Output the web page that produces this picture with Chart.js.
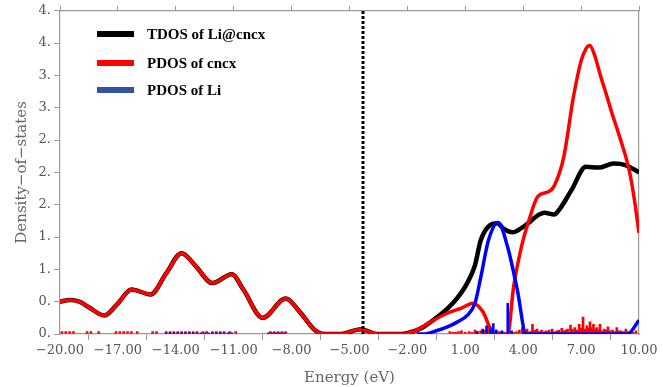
<!DOCTYPE html>
<html>
<head>
<meta charset="UTF-8">
<title>DOS of Li@cncx</title>
<script src="https://cdn.jsdelivr.net/npm/chart.js"></script>
<style>
    html, body { margin: 0; padding: 0; background: #fff; }
    #box { width: 663px; height: 387px; }
</style>
</head>
<body>
<div id="box"><canvas id="dosChart" width="663" height="387"></canvas></div>
<script>
// PDOS of cncx (smoothed curve)
const cncxE   = [-20, -19.5, -19, -18.5, -17.7, -17, -16.3, -15.3, -14.5, -13.7, -13, -12.1, -11.1, -10.5, -9.5, -8.3, -7.6, -6.8, -6.3, -5.5, -4.4, -3.6, -2.3, -1.6, -0.8, 0.1, 0.8, 1.4, 1.9, 2.5, 3.2, 3.5, 3.9, 4.25, 4.75, 5.3, 5.6, 6.1, 6.6, 7.0, 7.25, 7.45, 7.7, 8.0, 8.3, 8.55, 9.05, 9.5, 9.75, 10];
const cncxDos = [0.40, 0.42, 0.40, 0.33, 0.23, 0.38, 0.55, 0.49, 0.75, 1.00, 0.85, 0.63, 0.74, 0.55, 0.20, 0.44, 0.28, 0.05, 0.0, 0.0, 0.06, 0.0, 0.0, 0.04, 0.15, 0.26, 0.32, 0.38, 0.28, 0.0, 0.0, 0.58, 1.07, 1.37, 1.70, 1.76, 1.83, 2.19, 2.93, 3.38, 3.53, 3.57, 3.45, 3.20, 2.97, 2.77, 2.40, 2.02, 1.68, 1.25];

// TDOS of Li@cncx
const tdosE   = [-20, -19.5, -19, -18.5, -17.7, -17, -16.3, -15.3, -14.5, -13.7, -13, -12.1, -11.1, -10.5, -9.5, -8.3, -7.6, -6.8, -6.3, -5.5, -4.4, -3.6, -2.3, -1.6, -1.15, -0.5, 0.1, 0.6, 1.1, 1.5, 1.8, 2.3, 2.65, 3.0, 3.45, 3.9, 4.25, 4.7, 5.1, 5.6, 5.9, 6.5, 7.25, 7.9, 8.7, 9.3, 10];
const tdosDos = [0.40, 0.42, 0.40, 0.33, 0.23, 0.38, 0.55, 0.49, 0.75, 1.00, 0.85, 0.63, 0.74, 0.55, 0.20, 0.44, 0.28, 0.05, 0.0, 0.0, 0.06, 0.0, 0.0, 0.04, 0.09, 0.2, 0.32, 0.45, 0.63, 0.85, 1.16, 1.35, 1.37, 1.30, 1.26, 1.31, 1.37, 1.46, 1.50, 1.48, 1.55, 1.78, 2.07, 2.06, 2.11, 2.09, 2.0];

// PDOS of Li
const liE   = [-1.5, -1.15, -0.5, 0.1, 0.6, 1.1, 1.5, 1.8, 2.2, 2.7, 3.2, 3.7, 4.15, 9.4, 10];
const liDos = [0.0, 0.0, 0.04, 0.09, 0.15, 0.23, 0.38, 0.70, 1.16, 1.38, 1.07, 0.54, 0.0, 0.0, 0.17];

// discrete levels (sticks) along the baseline
const cncxStickE = [-19.9, -19.7, -19.5, -19.3, -18.6, -18.4, -18.0, -17.1, -16.9, -16.7, -16.5, -16.3, -16.0, -15.2, -15.0, -14.5, -14.3, -14.1, -13.9, -13.7, -13.5, -13.3, -13.1, -12.9, -12.6, -12.4, -12.1, -11.9, -11.7, -11.5, -11.2, -10.9, -9.1, -8.9, -8.7, -8.5, -8.3,
                    0.2, 0.35, 0.5, 0.65, 0.8, 1.0, 1.2, 1.35, 1.5, 1.65, 1.8, 2.0, 2.2, 2.4, 2.6, 2.75, 2.9, 3.05, 3.3, 3.5,
                    3.65, 3.8, 3.95, 4.1, 4.2, 4.35, 4.48, 4.6, 4.72, 4.85, 4.95, 5.1, 5.2, 5.35, 5.5, 5.62, 5.75, 5.85, 6.0, 6.1, 6.2, 6.3, 6.45, 6.55, 6.68, 6.8, 6.9, 7.0, 7.1, 7.2, 7.3, 7.38, 7.46, 7.55, 7.64, 7.72, 7.82, 7.9, 7.98, 8.08, 8.2, 8.3, 8.39, 8.5, 8.63, 8.75, 8.85, 8.95, 9.06, 9.2, 9.32, 9.45, 9.58, 9.7, 9.84];
const cncxStickH = [0.03, 0.03, 0.03, 0.03, 0.03, 0.03, 0.03, 0.03, 0.03, 0.03, 0.03, 0.03, 0.03, 0.03, 0.03, 0.03, 0.03, 0.03, 0.03, 0.03, 0.03, 0.03, 0.03, 0.03, 0.03, 0.03, 0.03, 0.03, 0.03, 0.03, 0.03, 0.03, 0.03, 0.03, 0.03, 0.03, 0.03,
                    0.03, 0.02, 0.02, 0.03, 0.04, 0.02, 0.03, 0.02, 0.05, 0.03, 0.04, 0.05, 0.06, 0.04, 0.05, 0.03, 0.03, 0.02, 0.03, 0.02,
                    0.03, 0.05, 0.08, 0.04, 0.06, 0.03, 0.12, 0.05, 0.06, 0.03, 0.05, 0.03, 0.04, 0.05, 0.06, 0.03, 0.04, 0.05, 0.07, 0.04, 0.05, 0.06, 0.11, 0.06, 0.08, 0.05, 0.12, 0.07, 0.21, 0.06, 0.10, 0.07, 0.15, 0.08, 0.12, 0.06, 0.08, 0.05, 0.12, 0.04, 0.06, 0.05, 0.09, 0.04, 0.05, 0.03, 0.08, 0.04, 0.04, 0.03, 0.06, 0.03, 0.03, 0.02, 0.04];
const liStickE = [-14.5, -14.3, -14.1, -13.9, -13.7, -13.5, -13.3, -13.1, -12.9, -12.7, -12.5, -12.3, -12.1, -11.9, -11.7, -11.5, -11.3, -11.1, -9.2, -9.0, -8.8, -8.6, -8.4,
                  1.6, 1.9, 2.1, 2.3, 2.45, 2.6, 2.9, 3.2, 3.4, 4.0];
const liStickH = [0.015, 0.015, 0.015, 0.015, 0.015, 0.015, 0.015, 0.015, 0.015, 0.015, 0.015, 0.015, 0.015, 0.015, 0.015, 0.015, 0.015, 0.015, 0.015, 0.015, 0.015, 0.015, 0.015,
                  0.03, 0.06, 0.10, 0.08, 0.13, 0.05, 0.04, 0.38, 0.04, 0.02];

const fermiLevel = [-4.3];

const xTickLabels = ['\u221220.00', '\u221217.00', '\u221214.00', '\u221211.00', '\u22128.00', '\u22125.00', '\u22122.00', '1.00', '4.00', '7.00', '10.00'];
const yTickLabels = ['0.', '0.', '1.', '1.', '2.', '2.', '2.', '3.', '3.', '4.', '4.'];

const legendLabels = ['TDOS of Li@cncx', 'PDOS of cncx', 'PDOS of Li'];
const legendColors = ['#000000', '#ff0000', '#2f55a1'];

function pts(xs, ys) {
    const out = [];
    for (let i = 0; i < xs.length; i++) out.push({ x: xs[i], y: ys[i] });
    return out;
}

const axisGray = '#9a9a9a';
const tickFont = { family: '"DejaVu Serif", serif', size: 13 };

// legend drawn inside the plot, top left
const legendInside = {
    id: 'legendInside',
    afterDraw(chart) {
        const ctx = chart.ctx;
        const rows = [34, 63, 90];
        ctx.save();
        ctx.font = 'bold 15px "Liberation Serif", serif';
        ctx.textBaseline = 'middle';
        for (let i = 0; i < legendLabels.length; i++) {
            ctx.fillStyle = legendColors[i];
            ctx.fillRect(97, rows[i] - 3, 37, 6);
            ctx.fillStyle = '#000';
            ctx.fillText(legendLabels[i], 147, rows[i] + 1);
        }
        ctx.restore();
    }
};

new Chart(document.getElementById('dosChart'), {
    type: 'line',
    data: {
        datasets: [
            {
                type: 'line', data: pts([fermiLevel[0], fermiLevel[0]], [0, 4]),
                borderColor: '#000', borderWidth: 3, borderDash: [3, 2], pointRadius: 0, tension: 0, order: 0
            },
            {
                type: 'line', label: 'PDOS of Li', data: pts(liE, liDos),
                borderColor: '#0000ff', borderWidth: 3.5, pointRadius: 0, cubicInterpolationMode: 'monotone', order: 1
            },
            {
                type: 'bar', data: pts(liStickE, liStickH),
                backgroundColor: '#0000ff', barThickness: 2, grouped: false, order: 2
            },
            {
                type: 'bar', data: pts(cncxStickE, cncxStickH),
                backgroundColor: '#ff0000', barThickness: 2, grouped: false, order: 3
            },
            {
                type: 'line', label: 'PDOS of cncx', data: pts(cncxE, cncxDos),
                borderColor: '#ff0000', borderWidth: 3.5, pointRadius: 0, cubicInterpolationMode: 'monotone', order: 4
            },
            {
                type: 'line', label: 'TDOS of Li@cncx', data: pts(tdosE, tdosDos),
                borderColor: '#000000', borderWidth: 4.5, pointRadius: 0, cubicInterpolationMode: 'monotone', order: 5
            }
        ]
    },
    options: {
        responsive: false,
        animation: false,
        layout: { padding: 0 },
        plugins: { legend: { display: false }, tooltip: { enabled: false } },
        scales: {
            x: {
                type: 'linear', position: 'bottom', min: -20, max: 10, offset: false,
                afterFit: s => { s.height = 53; },
                border: { display: true, color: axisGray, width: 1.2 },
                grid: { drawOnChartArea: false, drawTicks: true, tickLength: 6, color: axisGray },
                ticks: {
                    stepSize: 3, autoSkip: false, maxRotation: 0, color: '#555', font: tickFont, padding: 3,
                    callback: (v, i) => xTickLabels[i]
                },
                title: { display: true, text: 'Energy (eV)', color: '#666', font: { family: '"DejaVu Serif", serif', size: 15 }, padding: { top: 8, bottom: 0 } }
            },
            x2: {
                type: 'linear', position: 'top', min: -20, max: 10, offset: false,
                afterFit: s => { s.height = 8; },
                border: { display: true, color: axisGray, width: 1.2 },
                grid: { drawOnChartArea: false, drawTicks: true, tickLength: 5, color: axisGray },
                ticks: { stepSize: 3, display: false }
            },
            y: {
                type: 'linear', position: 'left', min: 0, max: 4,
                afterFit: s => { s.width = 60; },
                border: { display: true, color: axisGray, width: 1.2 },
                grid: { drawOnChartArea: false, drawTicks: true, tickLength: 6, color: axisGray },
                ticks: {
                    stepSize: 0.4, autoSkip: false, color: '#555', font: tickFont, padding: 3,
                    callback: (v, i) => yTickLabels[i]
                },
                title: { display: true, text: 'Density\u2212of\u2212states', color: '#666', font: { family: '"DejaVu Serif", serif', size: 15 }, padding: { top: 13, bottom: 0 } }
            },
            y2: {
                type: 'linear', position: 'right', min: 0, max: 4,
                afterFit: s => { s.width = 24; },
                border: { display: true, color: axisGray, width: 1.2 },
                grid: { display: false, drawTicks: false },
                ticks: { display: false }
            }
        }
    },
    plugins: [legendInside]
});
</script>
</body>
</html>
